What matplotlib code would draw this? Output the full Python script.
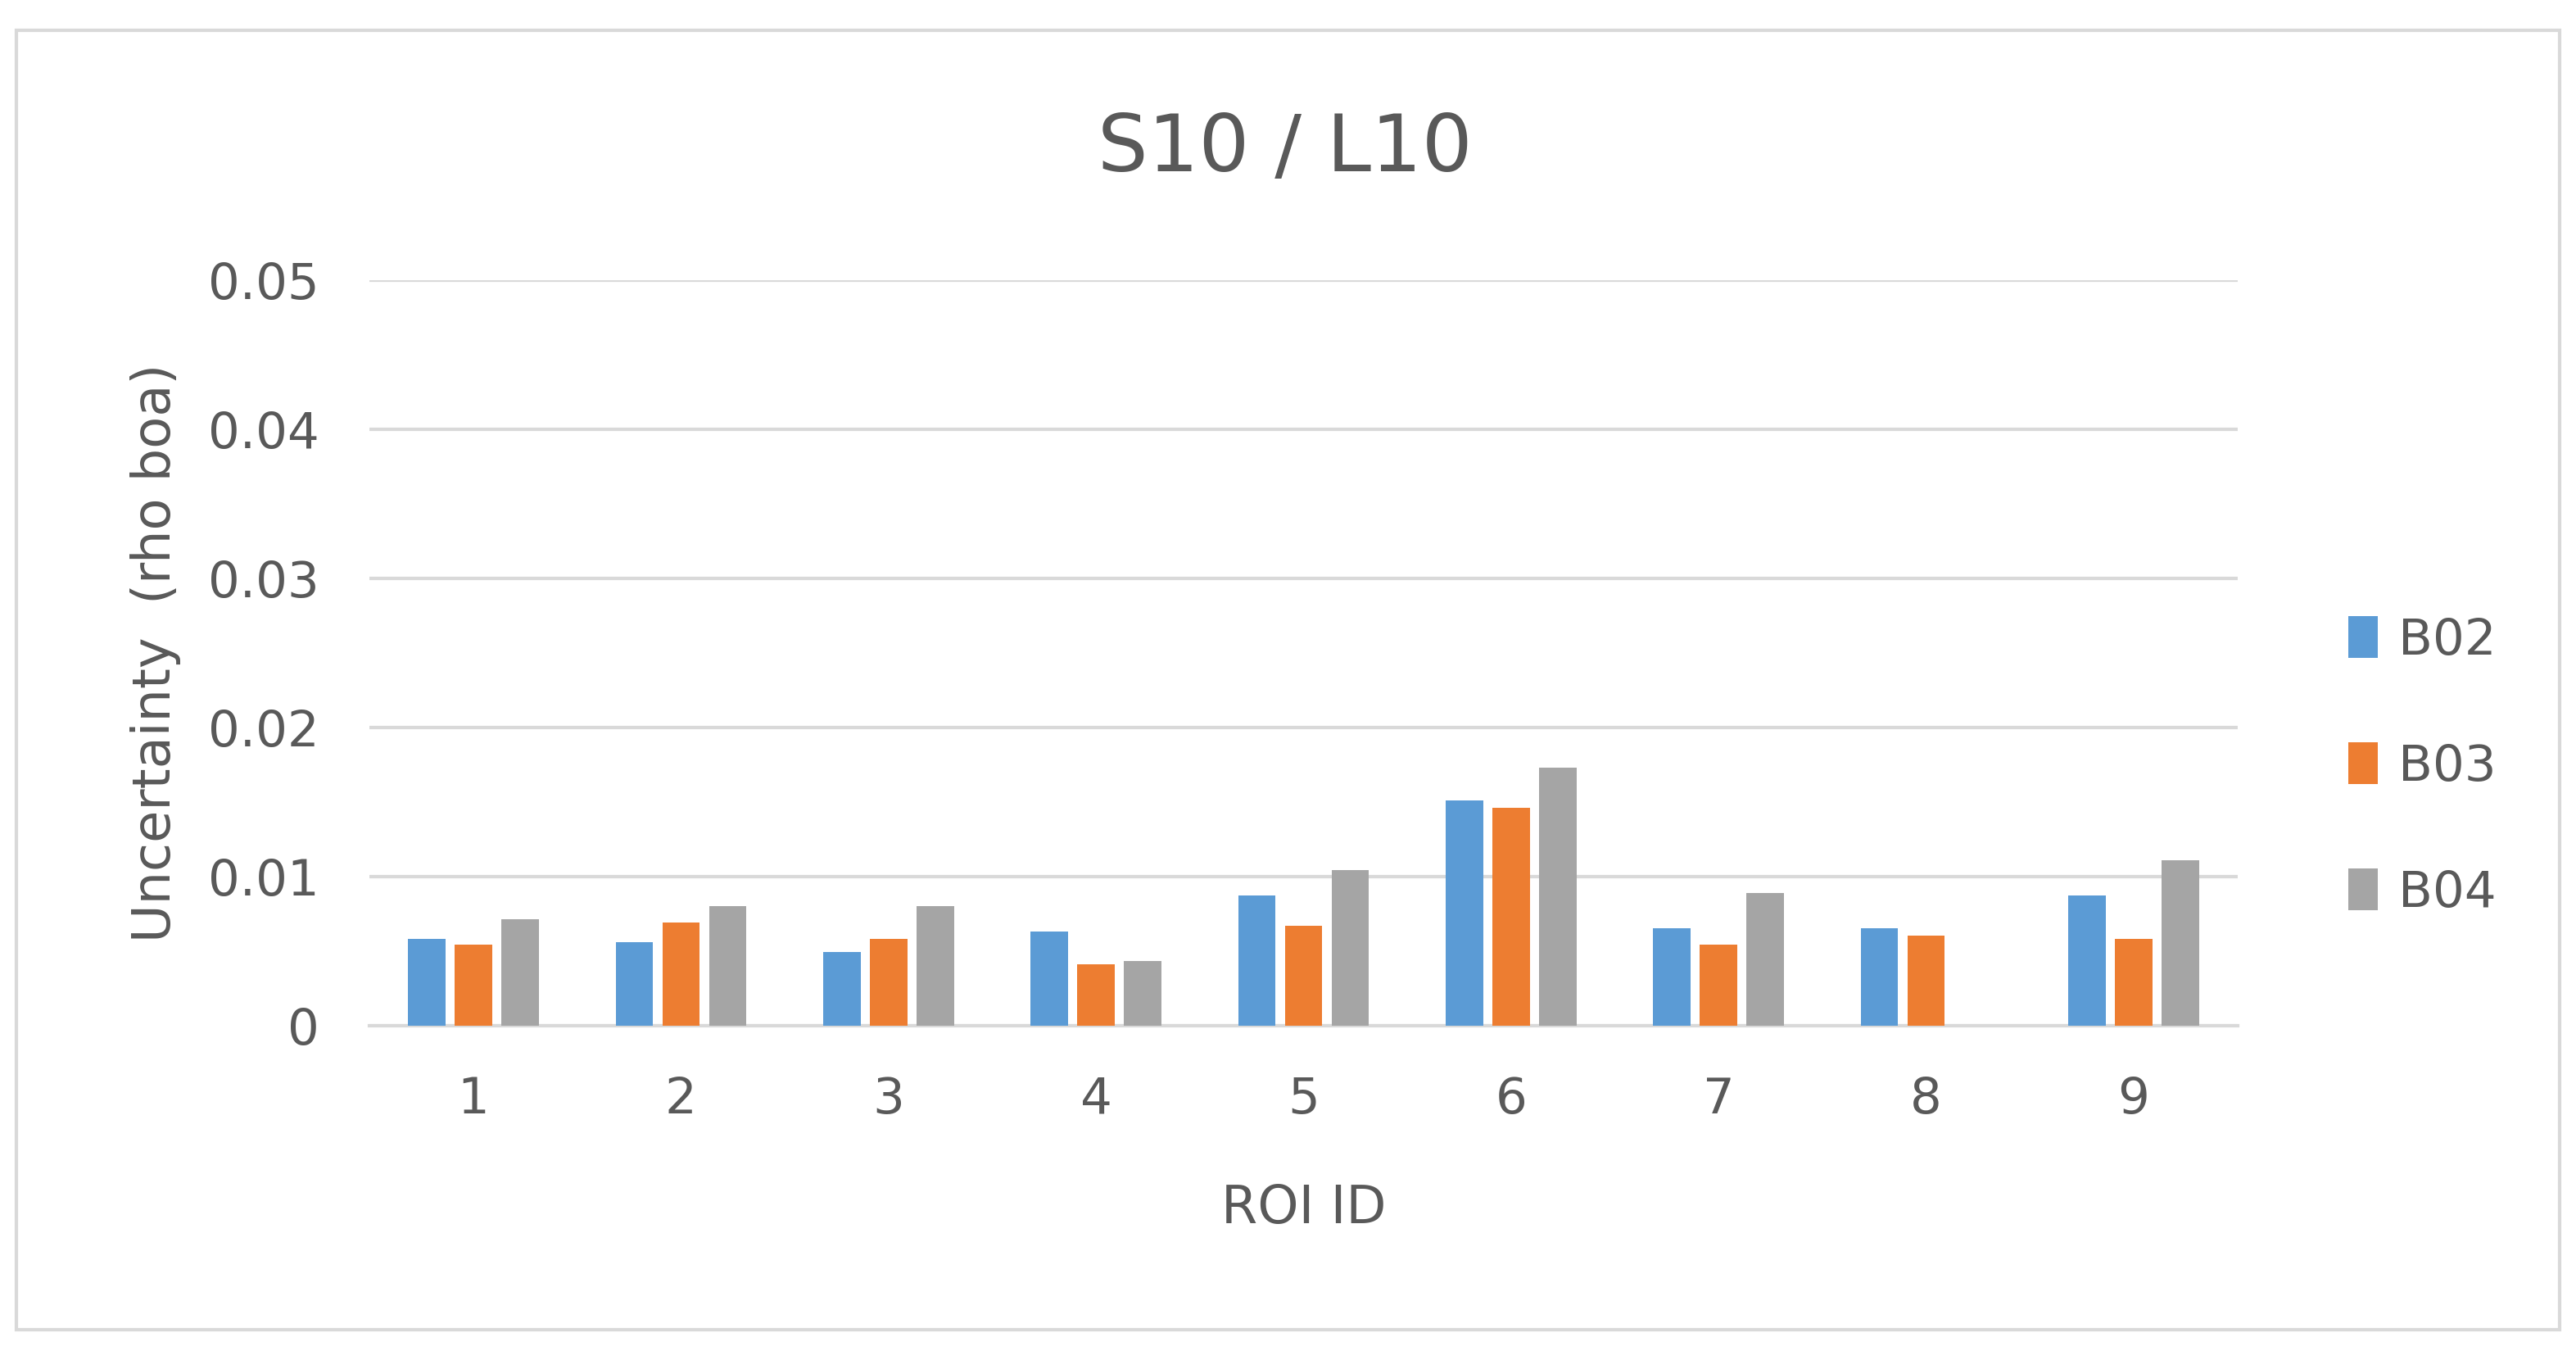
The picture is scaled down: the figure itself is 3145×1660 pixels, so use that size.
import numpy as np
import matplotlib.pyplot as plt
from matplotlib.patches import Rectangle

roi_ids = ['1', '2', '3', '4', '5', '6', '7', '8', '9']
b02 = [0.0058, 0.0056, 0.0049, 0.0063, 0.0087, 0.0151, 0.0065, 0.0065, 0.0087]
b03 = [0.0054, 0.0069, 0.0058, 0.0041, 0.0067, 0.0146, 0.0054, 0.0060, 0.0058]
b04 = [0.0071, 0.0080, 0.0080, 0.0043, 0.0104, 0.0173, 0.0089, 0.0, 0.0111]
series = {'B02': b02, 'B03': b03, 'B04': b04}
colors = ['#5B9BD5', '#ED7D31', '#A5A5A5']
txt = '#595959'

fig = plt.figure(figsize=(15.725, 8.3), dpi=200)
fig.patches.append(Rectangle((0.0065, 0.022), 0.987, 0.956, transform=fig.transFigure,
                             fill=False, edgecolor='#D9D9D9', lw=1.5))
ax = fig.add_axes([0.1435, 0.246, 0.7251, 0.548])

x = np.arange(len(roi_ids))
w = 0.18
for i, (name, vals) in enumerate(series.items()):
    ax.bar(x + (i - 1) * (w + 0.045), vals, w, color=colors[i], label=name, zorder=3)

ax.set_xlim(-0.5, len(roi_ids) - 0.5)
ax.set_ylim(0, 0.05)
ax.set_yticks([0, 0.01, 0.02, 0.03, 0.04, 0.05])
ax.set_yticklabels(['0', '0.01', '0.02', '0.03', '0.04', '0.05'])
ax.set_xticks(x)
ax.set_xticklabels(roi_ids)
ax.grid(axis='y', color='#D9D9D9', lw=1.5, zorder=0)
for s in ['top', 'right', 'left']:
    ax.spines[s].set_visible(False)
ax.spines['bottom'].set_color('#D9D9D9')
ax.spines['bottom'].set_linewidth(1.5)
ax.tick_params(length=0, labelsize=22, labelcolor=txt, pad=22)
ax.set_xlabel('ROI ID', fontsize=23, color=txt, labelpad=26)
ax.set_ylabel('Uncertainty  (rho boa)', fontsize=23, color=txt, labelpad=12)
fig.text(0.4987, 0.89, 'S10 / L10', ha='center', va='center', fontsize=35, color=txt)

ax.legend(loc='center left', bbox_to_anchor=(1.035, 0.347), frameon=False, fontsize=22,
          labelcolor=txt, handlelength=0.6, handleheight=0.9, labelspacing=1.55, handletextpad=0.4)

fig.savefig('out.png', dpi=200)
